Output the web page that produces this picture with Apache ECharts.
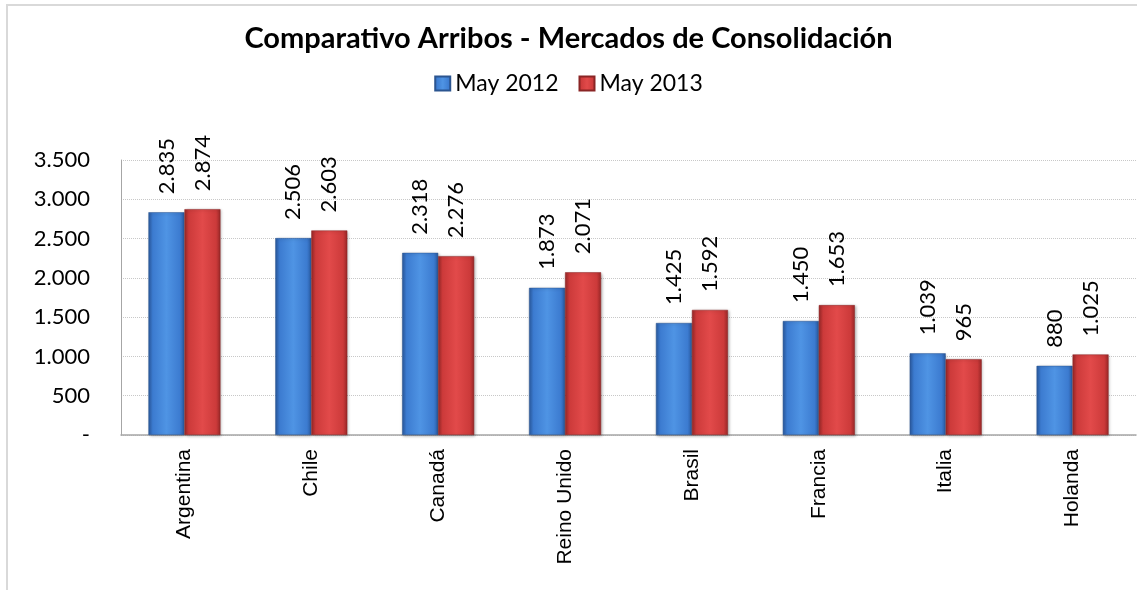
<!DOCTYPE html>
<html>
<head>
<meta charset="utf-8">
<script src="https://cdn.jsdelivr.net/npm/echarts@6/dist/echarts.min.js"></script>
<style>
    html, body { margin: 0; padding: 0; background: #fff; }
    #frame {
        position: absolute; left: 6px; top: 4px; width: 1140px; height: 600px;
        border: 2px solid #d9d9d9; box-sizing: border-box;
    }
    #chart { position: absolute; left: 0; top: 0; width: 1137px; height: 590px; }
</style>
</head>
<body>
<div id="frame"></div>
<div id="chart"></div>
<script>
// datos del grafico
const categories = ['Argentina', 'Chile', 'Canadá', 'Reino Unido', 'Brasil', 'Francia', 'Italia', 'Holanda'];
const may2012 = [2835, 2506, 2318, 1873, 1425, 1450, 1039, 880];
const may2013 = [2874, 2603, 2276, 2071, 1592, 1653, 965, 1025];
const seriesNames = ['May 2012', 'May 2013'];

// formato con punto de miles
const fmt = v => v === 0 ? '-' : String(v).replace(/\B(?=(\d{3})+(?!\d))/g, '.');

const bevel = (light, mid, dark) => new echarts.graphic.LinearGradient(0, 0, 1, 0, [
    { offset: 0, color: dark },
    { offset: 0.12, color: mid },
    { offset: 0.5, color: light },
    { offset: 0.88, color: mid },
    { offset: 1, color: dark }
]);

const labelCfg = {
    show: true,
    position: 'top',
    rotate: 90,
    align: 'left',
    verticalAlign: 'middle',
    distance: 18,
    fontFamily: 'Lato',
    fontSize: 22,
    color: '#000',
    formatter: p => fmt(p.value)
};

const chart = echarts.init(document.getElementById('chart'));
chart.setOption({
    animation: false,
    title: {
        text: 'Comparativo Arribos - Mercados de Consolidación',
        left: 'center',
        top: 19,
        textStyle: { fontFamily: 'Lato', fontSize: 29, fontWeight: 'bold', color: '#000' }
    },
    legend: {
        top: 67,
        left: 'center',
        itemWidth: 15,
        itemHeight: 14,
        itemGap: 20,
        icon: 'rect',
        textStyle: { fontFamily: 'Lato', fontSize: 23, color: '#000' },
        data: seriesNames
    },
    grid: { left: 121, right: 1, top: 160, bottom: 155 },
    xAxis: {
        type: 'category',
        data: categories,
        axisLine: { lineStyle: { color: '#a6a6a6', width: 1.5 } },
        axisTick: { show: false },
        axisLabel: {
            rotate: 90,
            margin: 14,
            interval: 0,
            fontFamily: 'Liberation Sans',
            fontSize: 21,
            color: '#000'
        }
    },
    yAxis: {
        type: 'value',
        min: 0,
        max: 3500,
        interval: 500,
        axisLine: { show: true, lineStyle: { color: '#a6a6a6' } },
        axisTick: { show: false },
        splitLine: { lineStyle: { color: '#c8c8c8', type: 'dotted' } },
        axisLabel: {
            margin: 31,
            fontFamily: 'Lato',
            fontSize: 22,
            color: '#000',
            formatter: fmt
        }
    },
    series: [
        {
            name: seriesNames[0],
            type: 'bar',
            data: may2012,
            barWidth: 36,
            barGap: '0%',
            itemStyle: {
                color: bevel('#4f94e4', '#3c7bd0', '#2a5aa0'),
                borderColor: '#2b5590',
                borderWidth: 0.5,
                shadowColor: 'rgba(0,0,0,0.3)',
                shadowBlur: 3,
                shadowOffsetX: 1,
                shadowOffsetY: 1
            },
            label: labelCfg
        },
        {
            name: seriesNames[1],
            type: 'bar',
            data: may2013,
            barWidth: 36,
            itemStyle: {
                color: bevel('#e24a4a', '#cc3a3a', '#9a2828'),
                borderColor: '#8a2525',
                borderWidth: 0.5,
                shadowColor: 'rgba(0,0,0,0.3)',
                shadowBlur: 3,
                shadowOffsetX: 1,
                shadowOffsetY: 1
            },
            label: labelCfg
        }
    ]
});
</script>
</body>
</html>
